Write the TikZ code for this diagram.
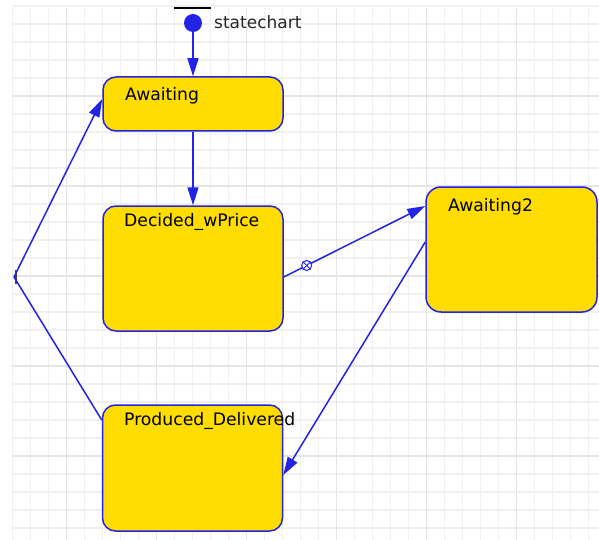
\documentclass[tikz,border=0pt]{standalone}
\usepackage{fontspec}
\setmainfont{DejaVu Sans}
\usetikzlibrary{arrows.meta}
\definecolor{stateblue}{RGB}{35,35,230}
\definecolor{stategold}{RGB}{255,221,0}
\definecolor{gridminor}{RGB}{240,240,240}
\definecolor{gridmajor}{RGB}{229,229,229}
\tikzset{
  statebox/.style={draw=stateblue, line width=1.5pt, fill=stategold,
    rounded corners=13pt, inner sep=0pt},
  statename/.style={anchor=west, inner sep=0pt, text=black,
    font=\fontsize{17.2}{20}\selectfont},
  trans/.style={draw=stateblue, line width=1.5pt,
    -{Triangle[length=18pt,width=11pt]}},
  transline/.style={draw=stateblue, line width=1.5pt},
}
\begin{document}
\begin{tikzpicture}[x=1pt,y=-1pt]
\useasboundingbox (0,0) rectangle (599,540);
\fill[white] (0,0) rectangle (599,540);

% background grid: minor every 18, major every 90
\foreach \i in {0,...,32} {
  \draw[gridminor, line width=1.3pt] ({12.7+18*\i},8) -- ({12.7+18*\i},540);
}
\foreach \j in {0,...,29} {
  \draw[gridminor, line width=1.3pt] (12,{6+18*\j}) -- (599,{6+18*\j});
}
\foreach \i in {0,...,5} {
  \draw[gridmajor, line width=1.5pt] ({66.7+90*\i},8) -- ({66.7+90*\i},540);
}
\foreach \j in {0,...,4} {
  \draw[gridmajor, line width=1.5pt] (12,{96+90*\j}) -- (599,{96+90*\j});
}

% initial pseudo-state
\draw[black, line width=1.5pt] (174,8) -- (211,8);
\node[circle, fill=stateblue, minimum size=18pt, inner sep=0pt] (init) at (193,23) {};
\node[anchor=west, inner sep=0pt, text=black!85, font=\fontsize{17}{20}\selectfont]
  (chartname) at (214,22) {statechart};

% states
\node[statebox, minimum width=180pt, minimum height=54pt] (aw) at (193,104) {};
\node[statebox, minimum width=180pt, minimum height=125pt] (dec) at (193,268.5) {};
\node[statebox, minimum width=171pt, minimum height=125pt, rounded corners=15pt] (aw2) at (511.5,249.5) {};
\node[statebox, minimum width=180pt, minimum height=126pt] (prod) at (192.5,468) {};

\node[statename] (awname) at (125,96) {Awaiting};
\node[statename] (decname) at (124,222) {Decided\_wPrice};
\node[statename] (aw2name) at (448,207) {Awaiting2};
\node[statename] (prodname) at (124,421) {Produced\_Delivered};

% transitions
\draw[trans] (init.south) -- (aw.north);
\draw[trans] (aw.south) -- (dec.north);
\draw[trans] ([yshift=-8.5pt]dec.east) -- ([yshift=43.5pt]aw2.west)
  node[pos=0.162, circle, draw=stateblue, line width=1pt, fill=white,
       minimum size=10pt, inner sep=0pt] (tmark) {};
\draw[stateblue, line width=0.9pt] (tmark.45) -- (tmark.225) (tmark.135) -- (tmark.315);
\draw[trans] ([yshift=7.5pt]aw2.west) -- ([yshift=-7pt]prod.east);

% branch on the left
\coordinate (jn) at (14,277);
\draw[black!75, line width=1.2pt] (16,270) -- (16,284);
\draw[transline] ([yshift=48pt]prod.west) -- (jn);
\draw[trans] (jn) -- ([yshift=5pt]aw.west);
\end{tikzpicture}
\end{document}
